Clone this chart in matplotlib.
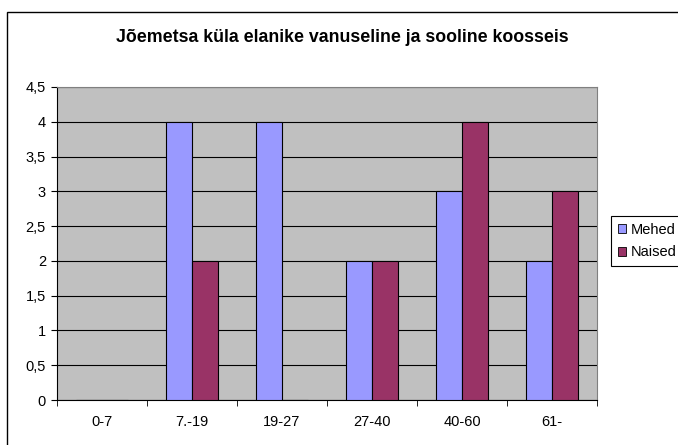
import matplotlib
matplotlib.use("Agg")
import matplotlib.pyplot as plt
import numpy as np
from matplotlib.patches import Rectangle

plt.rcParams['font.family'] = ['Liberation Sans', 'DejaVu Sans']

categories = ['0-7', '7.-19', '19-27', '27-40', '40-60', '61-']
mehed = [0, 4, 4, 2, 3, 2]
naised = [0, 2, 0, 2, 4, 3]
yticks = [0, 0.5, 1, 1.5, 2, 2.5, 3, 3.5, 4, 4.5]
ylabels = ['0', '0,5', '1', '1,5', '2', '2,5', '3', '3,5', '4', '4,5']

W, H = 678, 445
fig = plt.figure(figsize=(W / 100, H / 100), dpi=100)

# outer chart border
fig.patches.append(Rectangle((7 / W, -0.1), 1.1, 1.1 - 12 / H, transform=fig.transFigure,
                             fill=False, edgecolor='black', linewidth=1.0))

ax = fig.add_axes([57 / W, 1 - 400 / H, 540 / W, 313 / H])
ax.set_facecolor('#C0C0C0')

x = np.arange(len(categories))
bw = 1 / 3.5
ax.bar(x - bw / 2, mehed, bw, color='#9999FF', edgecolor='black', linewidth=0.8, label='Mehed', zorder=3)
ax.bar(x + bw / 2, naised, bw, color='#993366', edgecolor='black', linewidth=0.8, label='Naised', zorder=3)

ax.set_xlim(-0.5, len(categories) - 0.5)
ax.set_ylim(0, 4.5)
ax.set_yticks(yticks)
ax.set_yticklabels(ylabels, fontsize=10.5)
ax.yaxis.grid(True, color='black', linewidth=0.8, zorder=1)
ax.set_axisbelow(True)

ax.set_xticks(x)
ax.set_xticklabels(categories, fontsize=10.5)
ax.tick_params(axis='x', length=0, pad=11)
ax.set_xticks(np.arange(len(categories) + 1) - 0.5, minor=True)
ax.tick_params(axis='x', which='minor', length=4, color='black')
ax.tick_params(axis='y', length=4, color='black', pad=4)

for s in ['top', 'right']:
    ax.spines[s].set_color('#808080')
    ax.spines[s].set_linewidth(0.8)
for s in ['left', 'bottom']:
    ax.spines[s].set_color('black')
    ax.spines[s].set_linewidth(0.8)

fig.text(0.5 * (7 + 678) / W, 1 - 37 / H, 'Jõemetsa küla elanike vanuseline ja sooline koosseis',
         ha='center', va='center', fontsize=12.8, fontweight='bold')

leg = fig.legend(loc='upper left', bbox_to_anchor=(611 / W, 1 - 216 / H), fontsize=10.5,
                 frameon=True, fancybox=False, edgecolor='black', framealpha=1,
                 handlelength=0.6, handleheight=0.6, handletextpad=0.3,
                 borderpad=0.45, labelspacing=0.6, borderaxespad=0)
leg.get_frame().set_linewidth(0.8)
for h in leg.legend_handles:
    h.set_edgecolor('black')
    h.set_linewidth(0.6)

fig.savefig('out.png', dpi=100)
